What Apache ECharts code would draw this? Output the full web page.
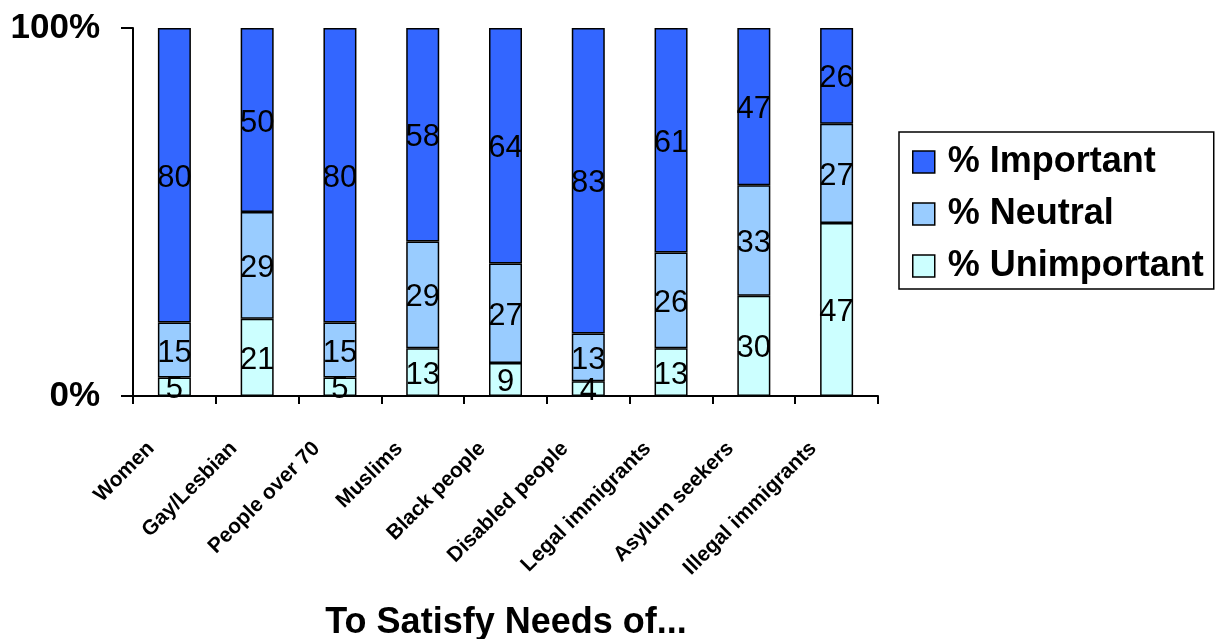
<!DOCTYPE html>
<html>
<head>
<meta charset="utf-8">
<script src="https://cdn.jsdelivr.net/npm/echarts@6/dist/echarts.min.js"></script>
<style>html,body{margin:0;padding:0;background:#fff}#c{width:1215px;height:639px}</style>
</head>
<body>
<div id="c"></div>
<script>
var categories = ['Women','Gay/Lesbian','People over 70','Muslims','Black people','Disabled people','Legal immigrants','Asylum seekers','Illegal immigrants'];
var important = [80,50,80,58,64,83,61,47,26];
var neutral = [15,29,15,29,27,13,26,33,27];
var unimportant = [5,21,5,13,9,4,13,30,47];
var seriesNames = ['% Important','% Neutral','% Unimportant'];
var yTickLabels = {0:'0%',100:'100%'};
var xAxisTitle = 'To Satisfy Needs of...';

var totals = categories.map(function(_, i){ return important[i] + neutral[i] + unimportant[i]; });
function toPct(arr){ return arr.map(function(v, i){ return {value: v / totals[i] * 100, raw: v}; }); }

var FONT = '"Liberation Sans", Arial, Helvetica, sans-serif';
var legendText = {fontSize: 36, fontWeight: 'bold', color: '#000', fontFamily: FONT, lineHeight: 36, padding: [0,0,0,8]};
function mkSeries(name, arr, color){
  return {
    name: name, type: 'bar', stack: 'total', barWidth: 33,
    data: toPct(arr),
    itemStyle: {color: color, borderColor: '#000', borderWidth: 1.5},
    label: {show: true, position: 'inside', offset: [0, 3], color: '#000', fontSize: 31, fontFamily: FONT,
      formatter: function(p){ return p.data.raw; }},
    emphasis: {disabled: true}
  };
}
var chart = echarts.init(document.getElementById('c'), null, {renderer: 'canvas'});
chart.setOption({
  animation: false,
  backgroundColor: '#fff',
  title: {
    text: xAxisTitle, left: 506, top: 604, textAlign: 'center', padding: 0,
    textStyle: {fontSize: 36, fontWeight: 'bold', color: '#000', fontFamily: FONT, lineHeight: 38}
  },
  grid: {left: 133, right: 337, top: 28, bottom: 243, containLabel: false, outerBoundsMode: 'none'},
  legend: {
    data: seriesNames.map(function(n){ return {name: n, textStyle: legendText}; }),
    orient: 'vertical', left: 899, top: 132,
    icon: 'rect',
    itemWidth: 22, itemHeight: 22, itemGap: 16,
    padding: [12, 10, 5, 13],
    borderColor: '#000', borderWidth: 1.5,
    itemStyle: {borderColor: '#000', borderWidth: 1.5},
    textStyle: legendText
  },
  xAxis: {
    type: 'category', data: categories,
    axisLine: {lineStyle: {color: '#000', width: 2}},
    axisTick: {show: true, length: 8, lineStyle: {color: '#000', width: 2}},
    axisLabel: {rotate: 45, interval: 0, margin: 26, padding: [0, 33, 0, 0], fontSize: 21, fontWeight: 'bold', color: '#000', fontFamily: FONT}
  },
  yAxis: {
    type: 'value', min: 0, max: 100, interval: 100,
    axisLine: {show: true, lineStyle: {color: '#000', width: 2}},
    axisTick: {show: true, length: 12, lineStyle: {color: '#000', width: 2}},
    splitLine: {show: false},
    axisLabel: {margin: 33, fontSize: 35, fontWeight: 'bold', color: '#000', fontFamily: FONT,
      formatter: function(v){ return yTickLabels[v] !== undefined ? yTickLabels[v] : ''; }}
  },
  series: [
    mkSeries(seriesNames[2], unimportant, '#CCFFFF'),
    mkSeries(seriesNames[1], neutral, '#99CCFF'),
    mkSeries(seriesNames[0], important, '#3366FF')
  ]
});
</script>
</body>
</html>
